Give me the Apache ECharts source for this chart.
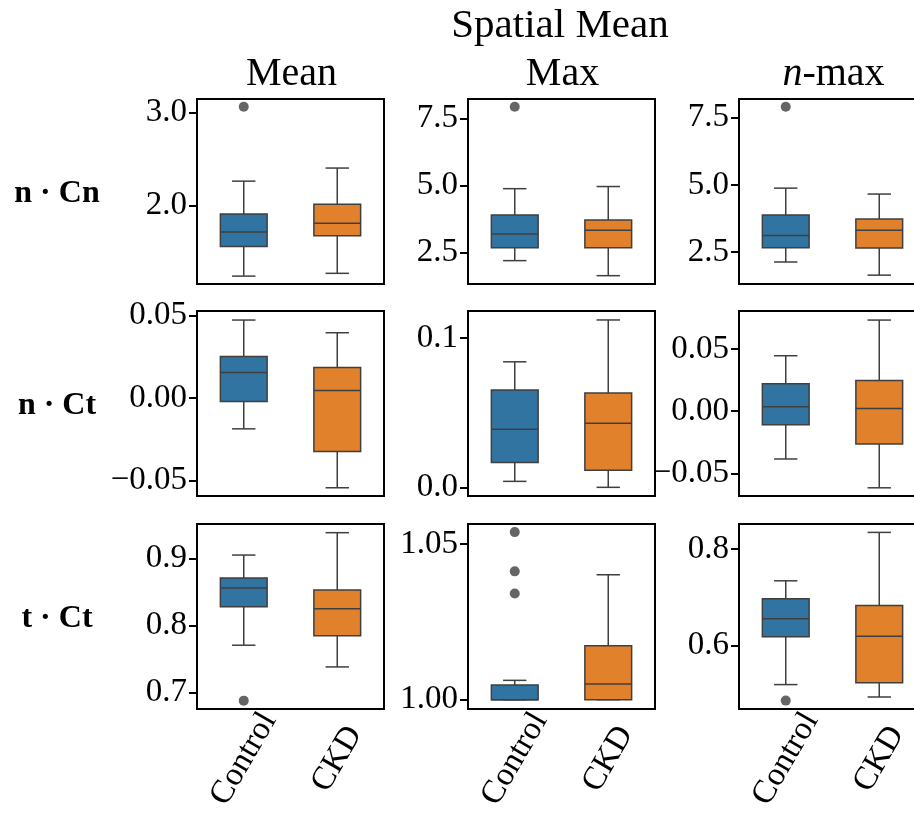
<!DOCTYPE html>
<html>
<head>
<meta charset="utf-8">
<script src="https://cdn.jsdelivr.net/npm/echarts@6/dist/echarts.min.js"></script>
<style>
  html, body { margin: 0; padding: 0; background: #fff; }
  #chart { width: 914px; height: 821px; }
</style>
</head>
<body>
<div id="chart"></div>
<script>
// categories and box stats [min, q1, median, q3, max]
var categories = ['Control', 'CKD'];
var columnTitles = ['Mean', 'Max', '{i|n}-max'];
var rowLabels = ['n \u00b7 Cn', 'n \u00b7 Ct', 't \u00b7 Ct'];

var nCnMeanControl = [1.24, 1.56, 1.715, 1.91, 2.263];
var nCnMeanCKD = [1.27, 1.675, 1.81, 2.014, 2.404];
var nCnMeanOutliers = [3.065];

var nCnMaxControl = [2.2, 2.68, 3.19, 3.90, 4.88];
var nCnMaxCKD = [1.64, 2.68, 3.33, 3.71, 4.96];
var nCnMaxOutliers = [7.93];

var nCnNmaxControl = [2.13, 2.66, 3.12, 3.88, 4.88];
var nCnNmaxCKD = [1.64, 2.65, 3.31, 3.73, 4.66];
var nCnNmaxOutliers = [7.91];

var nCtMeanControl = [-0.0187, -0.0021, 0.0156, 0.0253, 0.0474];
var nCtMeanCKD = [-0.0545, -0.0324, 0.0046, 0.0186, 0.0397];

var nCtMaxControl = [0.0042, 0.0169, 0.0391, 0.0653, 0.0842];
var nCtMaxCKD = [0.0002, 0.0117, 0.0431, 0.0633, 0.1122];

var nCtNmaxControl = [-0.0385, -0.011, 0.0035, 0.022, 0.0446];
var nCtNmaxCKD = [-0.0617, -0.0265, 0.0022, 0.0247, 0.0733];

var tCtMeanControl = [0.7705, 0.828, 0.856, 0.871, 0.9055];
var tCtMeanCKD = [0.738, 0.7845, 0.825, 0.853, 0.939];
var tCtMeanOutliers = [0.6875];

var tCtMaxControl = [1.0, 1.0, 1.0, 1.0047, 1.0062];
var tCtMaxCKD = [1.0, 1.0, 1.005, 1.0173, 1.0401];
var tCtMaxOutliers = [1.0538, 1.0412, 1.0341];

var tCtNmaxControl = [0.519, 0.618, 0.6553, 0.6968, 0.7342];
var tCtNmaxCKD = [0.4933, 0.523, 0.619, 0.683, 0.8346];
var tCtNmaxOutliers = [0.4858];

// tick values and labels per panel
var ticks = [
    [2.0, 3.0], [2.5, 5.0, 7.5], [2.5, 5.0, 7.5],
    [-0.05, 0, 0.05], [0, 0.1], [-0.05, 0, 0.05],
    [0.7, 0.8, 0.9], [1.0, 1.05], [0.6, 0.8]
];
var tickLabels = [
    ['2.0', '3.0'], ['2.5', '5.0', '7.5'], ['2.5', '5.0', '7.5'],
    ['\u22120.05', '0.00', '0.05'], ['0.0', '0.1'], ['\u22120.05', '0.00', '0.05'],
    ['0.7', '0.8', '0.9'], ['1.00', '1.05'], ['0.6', '0.8']
];

var panels = [
    [nCnMeanControl, nCnMeanCKD, nCnMeanOutliers],
    [nCnMaxControl, nCnMaxCKD, nCnMaxOutliers],
    [nCnNmaxControl, nCnNmaxCKD, nCnNmaxOutliers],
    [nCtMeanControl, nCtMeanCKD, []],
    [nCtMaxControl, nCtMaxCKD, []],
    [nCtNmaxControl, nCtNmaxCKD, []],
    [tCtMeanControl, tCtMeanCKD, tCtMeanOutliers],
    [tCtMaxControl, tCtMaxCKD, tCtMaxOutliers],
    [tCtNmaxControl, tCtNmaxCKD, tCtNmaxOutliers]
];

// axis extents
var yRanges = [
    [1.155, 3.148], [1.33, 8.22], [1.31, 8.2],
    [-0.0595, 0.0529], [-0.0056, 0.1182], [-0.0683, 0.0806],
    [0.675, 0.952], [0.997, 1.0564], [0.4684, 0.852]
];

var boxColors = ['#3274a1', '#e1812c'];
var lineColor = '#3f3f3f';
var font = "'Liberation Serif', 'DejaVu Serif', serif";

var colLeft = [197, 468, 739];
var rowTop = [99, 311, 524];
var panelW = 187, panelH = 185;

function renderBox(params, api) {
    var ci = api.value(0);
    var lo = api.coord([ci, api.value(1)]);
    var q1 = api.coord([ci, api.value(2)]);
    var md = api.coord([ci, api.value(3)]);
    var q3 = api.coord([ci, api.value(4)]);
    var hi = api.coord([ci, api.value(5)]);
    var band = api.size([1, 0])[0];
    var bw = band * 0.5, cw = bw * 0.5;
    var x = lo[0];
    var ls = { stroke: lineColor, lineWidth: 1.5 };
    return {
        type: 'group',
        children: [
            { type: 'line', shape: { x1: x, y1: lo[1], x2: x, y2: q1[1] }, style: ls },
            { type: 'line', shape: { x1: x, y1: q3[1], x2: x, y2: hi[1] }, style: ls },
            { type: 'line', shape: { x1: x - cw / 2, y1: lo[1], x2: x + cw / 2, y2: lo[1] }, style: ls },
            { type: 'line', shape: { x1: x - cw / 2, y1: hi[1], x2: x + cw / 2, y2: hi[1] }, style: ls },
            { type: 'rect', shape: { x: x - bw / 2, y: q3[1], width: bw, height: q1[1] - q3[1] },
              style: { fill: boxColors[ci], stroke: lineColor, lineWidth: 1.5 } },
            { type: 'line', shape: { x1: x - bw / 2, y1: md[1], x2: x + bw / 2, y2: md[1] }, style: ls }
        ]
    };
}

var grids = [], xAxes = [], yAxes = [], series = [];

panels.forEach(function(p, i) {
    var row = Math.floor(i / 3), col = i % 3;
    var bottomRow = row === 2;
    grids.push({
        left: colLeft[col], top: rowTop[row], width: panelW, height: panelH,
        outerBoundsMode: 'none', containLabel: false,
        show: true, borderColor: '#000', borderWidth: 2, backgroundColor: 'transparent'
    });
    xAxes.push({
        type: 'category', gridIndex: i, boundaryGap: true, data: categories,
        axisLine: { onZero: false, lineStyle: { color: '#000', width: 2 } },
        axisTick: { alignWithLabel: true, length: 8, lineStyle: { color: '#000', width: 2 } },
        axisLabel: {
            show: bottomRow, rotate: 60, align: 'center', verticalAlign: 'middle', margin: 50,
            fontFamily: font, fontSize: 33, color: '#000'
        }
    });
    var tv = ticks[i], tl = tickLabels[i];
    yAxes.push({
        type: 'value', gridIndex: i, min: yRanges[i][0], max: yRanges[i][1],
        splitLine: { show: false },
        axisLine: { show: true, onZero: false, lineStyle: { color: '#000', width: 2 } },
        axisTick: { show: true, length: 8, customValues: tv, lineStyle: { color: '#000', width: 2 } },
        axisLabel: {
            customValues: tv, margin: 10, fontFamily: font, fontSize: 33, color: '#000',
            formatter: function(v) {
                var best = 0;
                for (var k = 1; k < tv.length; k++) {
                    if (Math.abs(tv[k] - v) < Math.abs(tv[best] - v)) best = k;
                }
                return tl[best];
            }
        }
    });
    series.push({
        type: 'custom', xAxisIndex: i, yAxisIndex: i,
        renderItem: renderBox,
        encode: { x: 0, y: [1, 2, 3, 4, 5] },
        data: [[0].concat(p[0]), [1].concat(p[1])],
        silent: true
    });
    series.push({
        type: 'scatter', xAxisIndex: i, yAxisIndex: i,
        symbolSize: 10, itemStyle: { color: lineColor },
        data: p[2].map(function(v) { return [0, v]; }),
        silent: true
    });
});

var titles = [{
    text: 'Spatial Mean', left: 555, top: 1, textAlign: 'center',
    textStyle: { fontFamily: font, fontSize: 41, fontWeight: 'normal', color: '#000' }
}];
columnTitles.forEach(function(t, c) {
    titles.push({
        text: t, left: colLeft[c] + panelW / 2 - 4, top: 49, textAlign: 'center',
        textStyle: {
            fontFamily: font, fontSize: 40, fontWeight: 'normal', color: '#000',
            rich: { i: { fontFamily: font, fontSize: 40, fontStyle: 'italic', color: '#000' } }
        }
    });
});

var graphics = rowLabels.map(function(t, r) {
    return {
        type: 'text', x: 57, y: rowTop[r] + panelH / 2 + 2,
        style: {
            text: t, fontFamily: font, fontSize: 32, fontWeight: 'bold', fill: '#000',
            textAlign: 'center', textVerticalAlign: 'middle'
        }
    };
});

var myChart = echarts.init(document.getElementById('chart'));
myChart.setOption({
    animation: false,
    backgroundColor: '#fff',
    title: titles,
    grid: grids,
    xAxis: xAxes,
    yAxis: yAxes,
    series: series,
    graphic: graphics
});
</script>
</body>
</html>
